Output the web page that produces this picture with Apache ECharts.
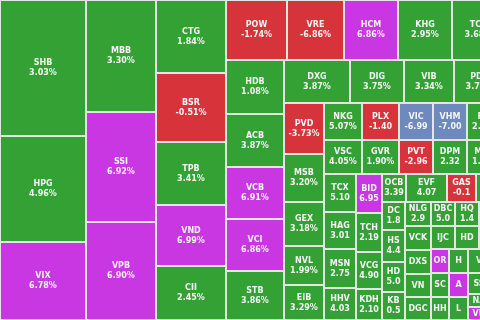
<!DOCTYPE html>
<html><head><meta charset="utf-8">
<script src="https://cdn.jsdelivr.net/npm/echarts@6/dist/echarts.min.js"></script>
<style>html,body{margin:0;padding:0;background:#fff;overflow:hidden}#c{width:480px;height:320px}</style>
</head><body><div id="c"></div>
<script>
// Tickers (a "#n" suffix marks a cell cut off by the right edge / a repeated short name)
const tickers = ['SHB','HPG','VIX','MBB','SSI','VPB','CTG','BSR','TPB','VND','CII',
  'POW','VRE','HCM','KHG','TCB','HDB','ACB','VCB','VCI','STB','DXG','DIG','VIB','PDR',
  'PVD','MSB','GEX','NVL','EIB','NKG','VSC','PLX','GVR','VIC','PVT','VHM','DPM','FPT','MWG',
  'TCX','HAG','MSN','HHV','BID','TCH','VCG','KDH','OCB','EVF','GAS','#1','DC','HS','HD','KB',
  'NLG','DBC','HQ','#2','VCK','DXS','VN','DGC','IJC','HD#2','#3','OR','SC','HH','H','V','#4',
  'A','L','SS','#5','NA','VD','#6'];
// Block size (weight) of each ticker
const sizes = [11696,9116,6708,7840,7700,6860,5110,4830,4410,4270,3780,
  3660,3420,3240,3240,3180,3132,3074,3016,3016,2842,2838,2322,2150,2193,
  2040,1920,1760,1560,1400,1406,1292,1369,1258,1258,1156,1258,1156,1406,1292,
  1216,1184,1248,1024,1014,1014,962,806,672,1148,812,812,644,736,690,644,
  624,576,576,624,624,624,598,598,552,552,598,432,432,414,456,528,360,
  456,437,462,315,286,286,390];
// Price change text as displayed
const changes = ['3.03%','4.96%','6.78%','3.30%','6.92%','6.90%','1.84%','-0.51%','3.41%','6.99%','2.45%',
  '-1.74%','-6.86%','6.86%','2.95%','3.68%','1.08%','3.87%','6.91%','6.86%','3.86%','3.87%','3.75%','3.34%','3.72%',
  '-3.73%','3.20%','3.18%','1.99%','3.29%','5.07%','4.05%','-1.40','1.90%','-6.99','-2.96','-7.00','2.32','2.41%','1.52%',
  '5.10','3.01','2.75','4.03','6.95','2.19','4.90','2.10','3.39','4.07','-0.1','','1.8','4.4','5.0','0.5',
  '2.9','5.0','1.4','','','','','','','','','','','','','','',
  '','','','','','',''];
// u = up, d = down, c = ceiling, f = floor
const states = ['u','u','c','u','c','c','u','d','u','c','u',
  'd','d','c','u','u','u','u','c','c','u','u','u','u','u',
  'd','u','u','u','u','u','u','d','u','f','d','f','u','u','u',
  'u','u','u','u','c','u','u','u','u','u','d','u','u','u','u','u',
  'u','u','u','u','u','u','u','u','u','u','u','c','u','u','u','u','u',
  'c','u','u','u','u','c','u'];
// Grouping of the blocks
const groups = [
  ['SHB','HPG','VIX'],
  ['MBB','SSI','VPB'],
  ['CTG','BSR','TPB','VND','CII'],
  [
    ['POW','VRE','HCM','KHG','TCB'],
    ['HDB','ACB','VCB','VCI','STB'],
    ['DXG','DIG','VIB','PDR'],
    ['PVD','MSB','GEX','NVL','EIB'],
    [['NKG','VSC'],['PLX','GVR'],['VIC','PVT'],['VHM','DPM'],['FPT','MWG']],
    ['TCX','HAG','MSN','HHV'],
    ['BID','TCH','VCG','KDH'],
    ['OCB','EVF','GAS','#1'],
    ['DC','HS','HD','KB'],
    ['NLG','DBC','HQ','#2'],
    ['VCK','DXS','VN','DGC'],
    ['IJC','HD#2','#3'],
    ['OR','SC','HH'],
    ['H','V','#4'],
    ['A','L'],
    ['SS','#5'],
    [['NA','VD'],'#6']
  ]
];
const palette = {u:'#34a134', d:'#d6333a', c:'#c937e3', f:'#6d89bd'};
const idx = {}; tickers.forEach((t,i)=>{idx[t]=i;});
function build(node){
  if (typeof node === 'string') {
    const i = idx[node];
    const shown = node.split('#')[0];
    const txt = shown + (changes[i] ? '\n' + changes[i] : '');
    return {name: node, value: sizes[i], txt: txt,
      itemStyle: {color: palette[states[i]], borderWidth: 1, borderColor: '#e3e6e3'}};
  }
  return {name: '', children: node.map(build)};
}
const chart = echarts.init(document.getElementById('c'), null, {renderer:'canvas'});
chart.setOption({
  animation: false,
  series: [{
    type: 'treemap',
    left: 0, top: 0, width: 505, height: 320,
    roam: false, nodeClick: false,
    breadcrumb: {show: false},
    sort: false,
    squareRatio: 1e-6,
    visibleMin: 0,
    itemStyle: {borderWidth: 0, gapWidth: 0, borderColor: 'transparent'},
    upperLabel: {show: false, height: 0},
    label: {
      show: true, position: 'inside', align: 'center', verticalAlign: 'middle',
      formatter: p => p.data.txt || '',
      color: '#f4f4f4', fontFamily: 'DejaVu Sans', fontWeight: 'bold',
      fontSize: 8, lineHeight: 10, overflow: 'none', padding: 0
    },
    emphasis: {disabled: true},
    data: groups.map(build)
  }]
});
</script>
</body></html>
